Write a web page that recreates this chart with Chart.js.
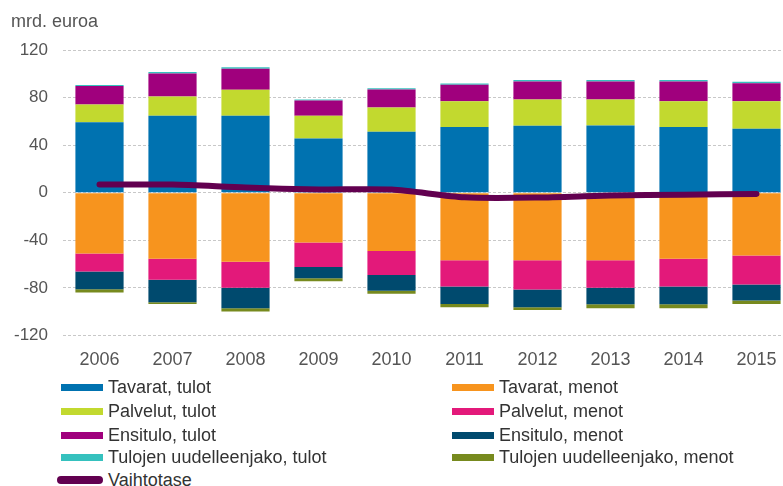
<!DOCTYPE html>
<html>
<head>
<meta charset="utf-8">
<script src="https://cdn.jsdelivr.net/npm/chart.js@4.4.0/dist/chart.umd.min.js"></script>
<style>
    html, body { margin: 0; padding: 0; background: #fff; overflow: hidden; }
    body { width: 783px; height: 486px; position: relative; font-family: "Liberation Sans", Arial, sans-serif; }
    #chart-wrap { position: absolute; left: 0; top: 0; width: 793px; height: 388px; }
    .leg { position: absolute; font-size: 18px; color: #333; line-height: 20px; white-space: nowrap; }
    .leg .sw { position: absolute; left: 0; top: 7px; width: 42px; height: 7px; }
    .leg span.t { position: absolute; left: 47px; top: 0; }
</style>
</head>
<body>
<div id="chart-wrap"><canvas id="myChart" width="793" height="388"></canvas></div>
<div id="legend"></div>
<script>
const years = ['2006', '2007', '2008', '2009', '2010', '2011', '2012', '2013', '2014', '2015'];
const yTicks = [-120, -80, -40, 0, 40, 80, 120];

const tavaratTulot = [59.2, 64.8, 64.8, 45.6, 51.3, 55.2, 56.4, 56.5, 55.2, 53.8];
const palvelutTulot = [15.0, 16.1, 21.7, 19.2, 20.3, 21.7, 21.9, 21.8, 21.7, 23.1];
const ensituloTulot = [15.5, 19.4, 17.7, 12.7, 15.2, 13.8, 15.3, 15.3, 16.7, 15.2];
const uudelleenTulot = [0.8, 1.1, 1.2, 0.8, 1.1, 1.2, 1.1, 1.1, 1.1, 1.1];

const tavaratMenot = [-51.2, -55.5, -58.0, -41.9, -49.0, -56.9, -56.9, -56.9, -55.5, -52.9];
const palvelutMenot = [-15.0, -17.7, -22.0, -20.6, -20.3, -22.0, -24.5, -23.1, -23.4, -24.3];
const ensituloMenot = [-14.9, -18.9, -17.2, -9.4, -13.2, -14.6, -15.0, -13.8, -14.9, -13.5];
const uudelleenMenot = [-2.8, -1.4, -2.8, -2.5, -2.5, -2.9, -2.2, -3.4, -3.4, -2.8];

const vaihtotase = [6.8, 6.8, 4.3, 2.7, 2.6, -3.9, -4.1, -2.4, -1.7, -1.0];

const textColor = '#555555';
const gridColor = '#c8c8c8';
const fontFamily = '"Liberation Sans", Arial, sans-serif';

function bar(label, data, color) {
    return {
        type: 'bar',
        label: label,
        data: data,
        backgroundColor: color,
        borderWidth: 0,
        stack: 'bars',
        order: 2,
        barPercentage: 0.66,
        categoryPercentage: 1.0,
    };
}

const datasets = [
    bar('Tavarat, tulot', tavaratTulot, '#0072B0'),
    bar('Tavarat, menot', tavaratMenot, '#F7941E'),
    bar('Palvelut, tulot', palvelutTulot, '#C2D92F'),
    bar('Palvelut, menot', palvelutMenot, '#E3197A'),
    bar('Ensitulo, tulot', ensituloTulot, '#A0007D'),
    bar('Ensitulo, menot', ensituloMenot, '#004A6E'),
    bar('Tulojen uudelleenjako, tulot', uudelleenTulot, '#35C1BE'),
    bar('Tulojen uudelleenjako, menot', uudelleenMenot, '#778A1E'),
    {
        type: 'line',
        label: 'Vaihtotase',
        data: vaihtotase,
        borderColor: '#620050',
        backgroundColor: '#620050',
        borderWidth: 6,
        borderCapStyle: 'round',
        pointRadius: 0,
        tension: 0.25,
        stack: 'line',
        order: 1,
    }
];

// y-axis unit label in the top left corner
const unitLabel = {
    id: 'unitLabel',
    afterDraw(chart) {
        const c = chart.ctx;
        c.save();
        c.font = '18px ' + fontFamily;
        c.fillStyle = textColor;
        c.textBaseline = 'middle';
        c.fillText('mrd. euroa', 11, 22);
        c.restore();
    }
};

const ctx = document.getElementById('myChart');
new Chart(ctx, {
    data: {
        labels: years,
        datasets: datasets
    },
    options: {
        responsive: false,
        animation: false,
        layout: {
            padding: { top: 50, bottom: 3, left: 0, right: 0 }
        },
        plugins: {
            legend: { display: false },
            tooltip: { enabled: false }
        },
        scales: {
            x: {
                stacked: true,
                grid: { display: false, drawTicks: false },
                border: { display: false },
                ticks: {
                    color: textColor,
                    padding: 14,
                    font: { family: fontFamily, size: 18 }
                }
            },
            y: {
                stacked: true,
                min: -120,
                max: 120,
                afterBuildTicks: function (scale) {
                    scale.ticks = yTicks.map(v => ({ value: v }));
                },
                afterFit: function (scale) {
                    scale.width = 63;
                },
                grid: {
                    color: gridColor,
                    drawTicks: false
                },
                border: { display: false, dash: [3, 2] },
                ticks: {
                    color: textColor,
                    padding: 15,
                    font: { family: fontFamily, size: 17 }
                }
            }
        }
    },
    plugins: [unitLabel]
});

// two-column legend below the chart
const legend = document.getElementById('legend');
const rowY = [377, 401, 425, 447, 470];
datasets.forEach(function (ds, i) {
    const col = i === 8 ? 0 : i % 2;
    const row = Math.floor(i / 2);
    const item = document.createElement('div');
    item.className = 'leg';
    item.style.left = (col === 0 ? 61 : 452) + 'px';
    item.style.top = rowY[row] + 'px';
    const sw = document.createElement('div');
    sw.className = 'sw';
    sw.style.background = ds.type === 'line' ? ds.borderColor : ds.backgroundColor;
    if (ds.type === 'line') {
        sw.style.height = '8px';
        sw.style.top = '6px';
        sw.style.left = '-4px';
        sw.style.width = '46px';
        sw.style.borderRadius = '4px';
    }
    const t = document.createElement('span');
    t.className = 't';
    t.textContent = ds.label;
    item.appendChild(sw);
    item.appendChild(t);
    legend.appendChild(item);
});
</script>
</body>
</html>
